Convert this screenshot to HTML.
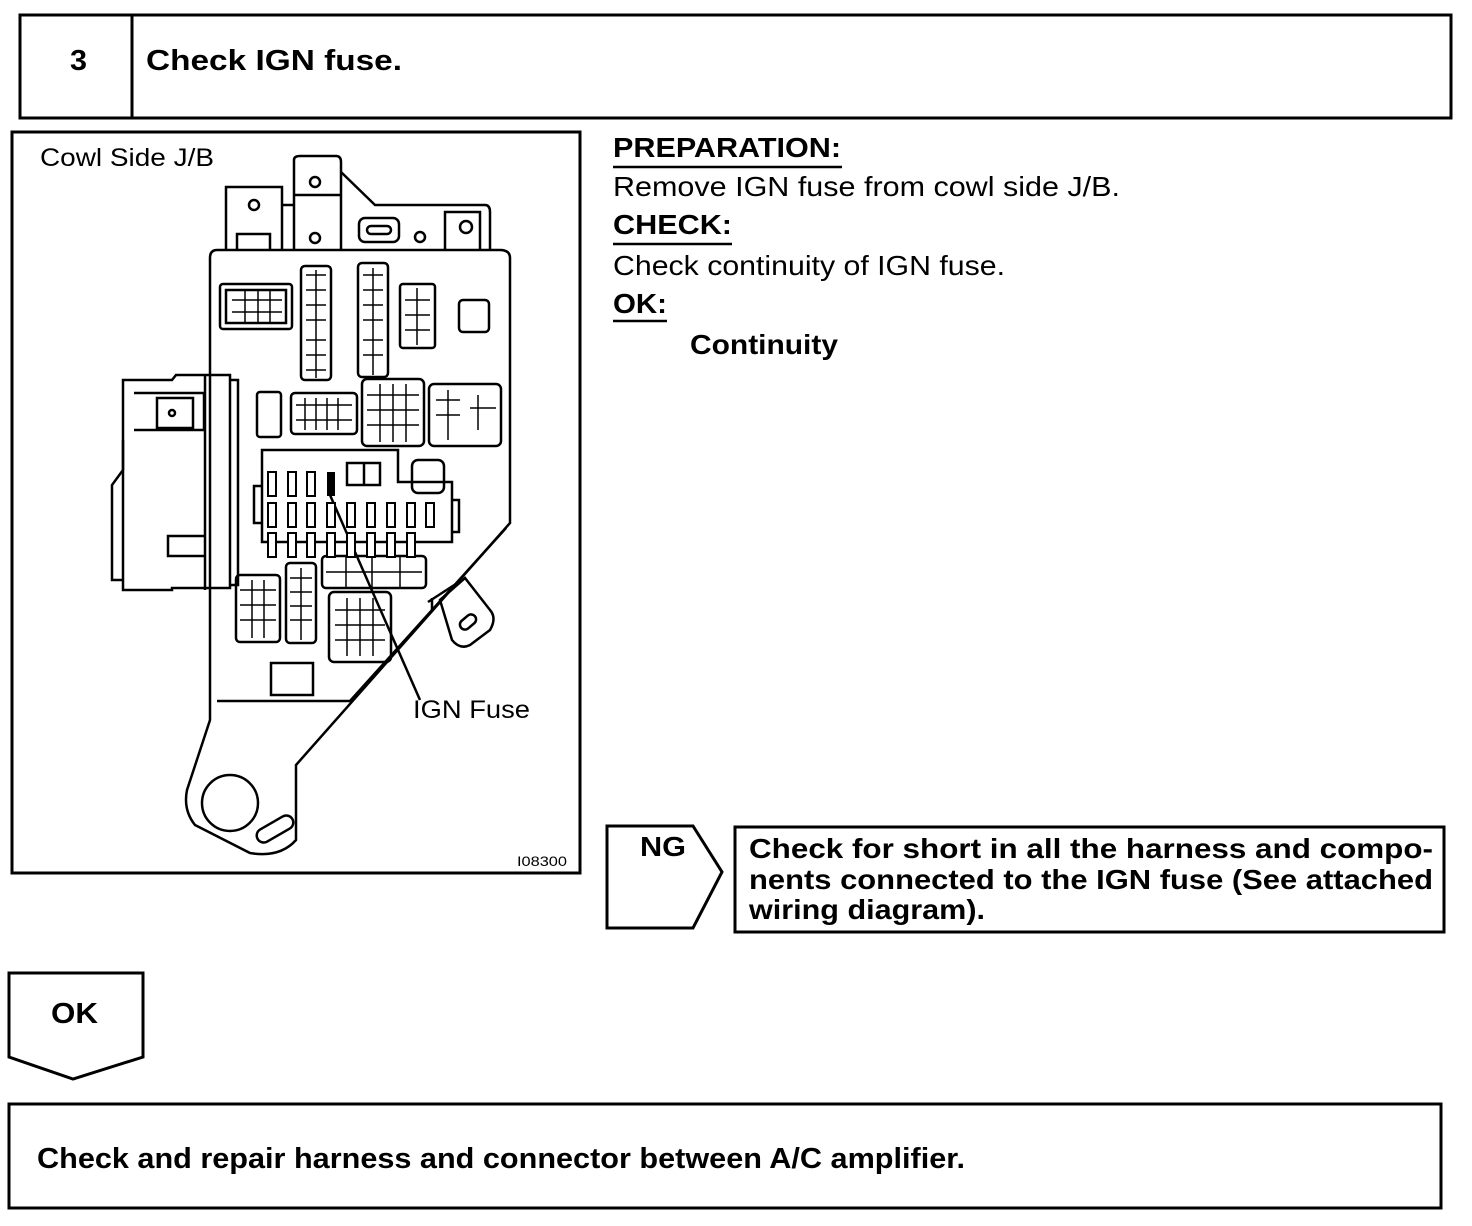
<!DOCTYPE html>
<html><head><meta charset="utf-8"><style>
html,body{margin:0;padding:0;background:#fff}
svg{display:block}
text{font-family:"Liberation Sans",Arial,sans-serif;fill:#000}
.b{font-weight:bold}
</style></head><body>
<svg width="1472" height="1226" viewBox="0 0 1472 1226" xmlns="http://www.w3.org/2000/svg">
<g fill="none" stroke="#000" stroke-width="3">
<rect x="20" y="15" width="1431" height="103"/>
<line x1="132" y1="15" x2="132" y2="118"/>
<rect x="12" y="132" width="568" height="741"/>
<path d="M607,826 H693 L722,872 L693,928 H607 Z"/>
<rect x="735" y="827" width="709" height="105"/>
<path d="M9,973 H143 V1057 L73,1079 L9,1057 Z"/>
<rect x="9" y="1104" width="1432" height="104"/>
</g>
<line x1="613" y1="167" x2="842" y2="167" stroke="#000" stroke-width="2.5"/>
<line x1="613" y1="244" x2="732" y2="244" stroke="#000" stroke-width="2.5"/>
<line x1="613" y1="321" x2="667" y2="321" stroke="#000" stroke-width="2.5"/>

<g lengthAdjust="spacingAndGlyphs">
<text x="70" y="70" class="b" font-size="29" textLength="17" lengthAdjust="spacingAndGlyphs">3</text>
<text x="146" y="70" class="b" font-size="29" textLength="256" lengthAdjust="spacingAndGlyphs">Check IGN fuse.</text>
<text x="40" y="166" font-size="25" textLength="174" lengthAdjust="spacingAndGlyphs">Cowl Side J/B</text>
<text x="613" y="157" class="b" font-size="28" textLength="228" lengthAdjust="spacingAndGlyphs">PREPARATION:</text>
<text x="613" y="196" font-size="28" textLength="507" lengthAdjust="spacingAndGlyphs">Remove IGN fuse from cowl side J/B.</text>
<text x="613" y="234" class="b" font-size="28" textLength="119" lengthAdjust="spacingAndGlyphs">CHECK:</text>
<text x="613" y="275" font-size="28" textLength="392" lengthAdjust="spacingAndGlyphs">Check continuity of IGN fuse.</text>
<text x="613" y="313" class="b" font-size="28" textLength="54" lengthAdjust="spacingAndGlyphs">OK:</text>
<text x="690" y="354" class="b" font-size="28" textLength="148" lengthAdjust="spacingAndGlyphs">Continuity</text>
<text x="640" y="856" class="b" font-size="28" textLength="46" lengthAdjust="spacingAndGlyphs">NG</text>
<text x="749" y="858" class="b" font-size="28" textLength="684" lengthAdjust="spacingAndGlyphs">Check for short in all the harness and compo-</text>
<text x="749" y="889" class="b" font-size="28" textLength="684" lengthAdjust="spacingAndGlyphs">nents connected to the IGN fuse (See attached</text>
<text x="749" y="919" class="b" font-size="28" textLength="236" lengthAdjust="spacingAndGlyphs">wiring diagram).</text>
<text x="51" y="1023" class="b" font-size="29" textLength="47" lengthAdjust="spacingAndGlyphs">OK</text>
<text x="37" y="1168" class="b" font-size="29" textLength="928" lengthAdjust="spacingAndGlyphs">Check and repair harness and connector between A/C amplifier.</text>
<text x="413" y="718" font-size="25" textLength="117" lengthAdjust="spacingAndGlyphs">IGN Fuse</text>
<text x="517" y="866" font-size="14" textLength="50" lengthAdjust="spacingAndGlyphs">I08300</text>
</g>

<g fill="none" stroke="#000" stroke-width="2.5">
<path d="M217,250 Q210,250 210,258 V720 L187,790 Q183,810 195,825 L250,853 Q280,858 296,840 V765 L510,523 V258 Q510,250 500,250 Z"/>
<path d="M217,701 H350 L506,528"/>
<circle cx="230" cy="803" r="28"/>
<rect x="255" y="822" width="40" height="14" rx="7" transform="rotate(-30 275 829)"/>
<path d="M226,250 V187 H282 V250"/>
<circle cx="254" cy="205" r="5"/>
<path d="M237,250 V234 H270 V250"/>
<path d="M294,250 V160 Q294,156 300,156 H336 Q341,156 341,162 V250"/>
<path d="M294,195 H341"/>
<circle cx="315" cy="182" r="5"/><circle cx="315" cy="238" r="5"/>
<path d="M341,172 L375,205 H485 Q490,205 490,212 V250"/>
<path d="M282,205 H294"/>
<rect x="359" y="218" width="40" height="24" rx="6"/>
<rect x="367" y="226" width="24" height="8" rx="4"/>
<circle cx="420" cy="237" r="5"/>
<path d="M445,250 V212 H480 V250"/>
<circle cx="466" cy="227" r="6"/>
<!-- left connector -->
<path d="M123,380 H172 L176,375 H230 V588 H172 V590 H123 Z"/>
<path d="M123,440 V470 L112,485 V580 H123"/>
<path d="M205,375 V590 M230,380 H238 V585 H230"/>
<path d="M134,393 H204 V430 H134"/>
<rect x="157" y="398" width="36" height="30"/>
<circle cx="172" cy="413" r="3"/>
<path d="M206,536 H168 V556 H206"/>
<!-- fuse block -->
<path d="M262,450 H398 V482 H452 V542 H262 Z"/>
<path d="M452,500 H459 V532 H452 M262,486 H254 V523 H262"/>
<rect x="347" y="463" width="33" height="22"/><line x1="364" y1="463" x2="364" y2="485"/>
<rect x="220" y="284" width="72" height="45" rx="3"/>
<rect x="226" y="290" width="60" height="33"/>
<rect x="301" y="266" width="30" height="114" rx="4"/>
<rect x="358" y="263" width="30" height="114" rx="4"/>
<rect x="400" y="284" width="35" height="64" rx="3"/>
<rect x="459" y="300" width="30" height="32" rx="4"/>
<rect x="257" y="392" width="24" height="45" rx="3"/>
<rect x="291" y="393" width="66" height="41" rx="4"/>
<rect x="362" y="379" width="62" height="67" rx="5"/>
<rect x="429" y="384" width="72" height="62" rx="5"/>
<rect x="412" y="460" width="32" height="33" rx="6"/>
<rect x="236" y="575" width="44" height="67" rx="4"/>
<rect x="286" y="563" width="30" height="80" rx="4"/>
<rect x="322" y="556" width="104" height="32" rx="4"/>
<rect x="329" y="592" width="62" height="70" rx="5"/>
<rect x="271" y="663" width="42" height="32"/>
<path d="M440,600 L465,578 L490,610 Q497,618 490,630 L470,645 Q460,650 452,640 Z"/>
<path d="M428,602 L462,580 M432,598 L432,610"/>
<rect x="459" y="617" width="18" height="10" rx="5" transform="rotate(-40 468 622)"/>
<path d="M330,495 L420,700"/>
</g>
<g stroke="#000" stroke-width="1.5" fill="none">
<path d="M232,300 H282 M232,312 H282 M245,290 V323 M258,290 V323 M270,290 V323"/>
<path d="M306,275 H326 M306,290 H326 M306,305 H326 M306,320 H326 M306,340 H326 M306,355 H326 M306,370 H326 M316,270 V378"/>
<path d="M363,275 H383 M363,290 H383 M363,305 H383 M363,320 H383 M363,340 H383 M363,355 H383 M373,268 V375"/>
<path d="M405,300 H430 M405,315 H430 M405,330 H430 M417,288 V345"/>
<path d="M296,405 H352 M296,420 H352 M305,398 V430 M316,398 V430 M327,398 V430 M338,398 V430"/>
<path d="M367,395 H419 M367,410 H419 M367,425 H419 M380,384 V442 M393,384 V442 M406,384 V442"/>
<path d="M436,400 H460 M436,415 H460 M448,390 V440 M478,395 V430 M470,408 H496"/>
<path d="M240,590 H276 M240,605 H276 M240,620 H276 M252,580 V638 M264,580 V638"/>
<path d="M290,578 H312 M290,592 H312 M290,606 H312 M290,620 H312 M301,568 V640"/>
<path d="M346,556 V588 M372,556 V588 M400,556 V588 M326,572 H422"/>
<path d="M335,610 H385 M335,625 H385 M335,640 H385 M347,598 V656 M360,598 V656 M373,598 V656"/>
</g>
<g fill="#fff" stroke="#000" stroke-width="2">
<rect x="268" y="472" width="8" height="24"/><rect x="288" y="472" width="8" height="24"/><rect x="307" y="472" width="8" height="24"/>
<rect x="268" y="503" width="8" height="24"/><rect x="288" y="503" width="8" height="24"/><rect x="307" y="503" width="8" height="24"/><rect x="327" y="503" width="8" height="24"/><rect x="347" y="503" width="8" height="24"/><rect x="367" y="503" width="8" height="24"/><rect x="387" y="503" width="8" height="24"/><rect x="407" y="503" width="8" height="24"/><rect x="426" y="503" width="8" height="24"/>
<rect x="268" y="533" width="8" height="24"/><rect x="288" y="533" width="8" height="24"/><rect x="307" y="533" width="8" height="24"/><rect x="327" y="533" width="8" height="24"/><rect x="347" y="533" width="8" height="24"/><rect x="367" y="533" width="8" height="24"/><rect x="387" y="533" width="8" height="24"/><rect x="407" y="533" width="8" height="24"/>
</g>
<rect x="327" y="472" width="8" height="24" fill="#000"/>
</svg>
</body></html>
